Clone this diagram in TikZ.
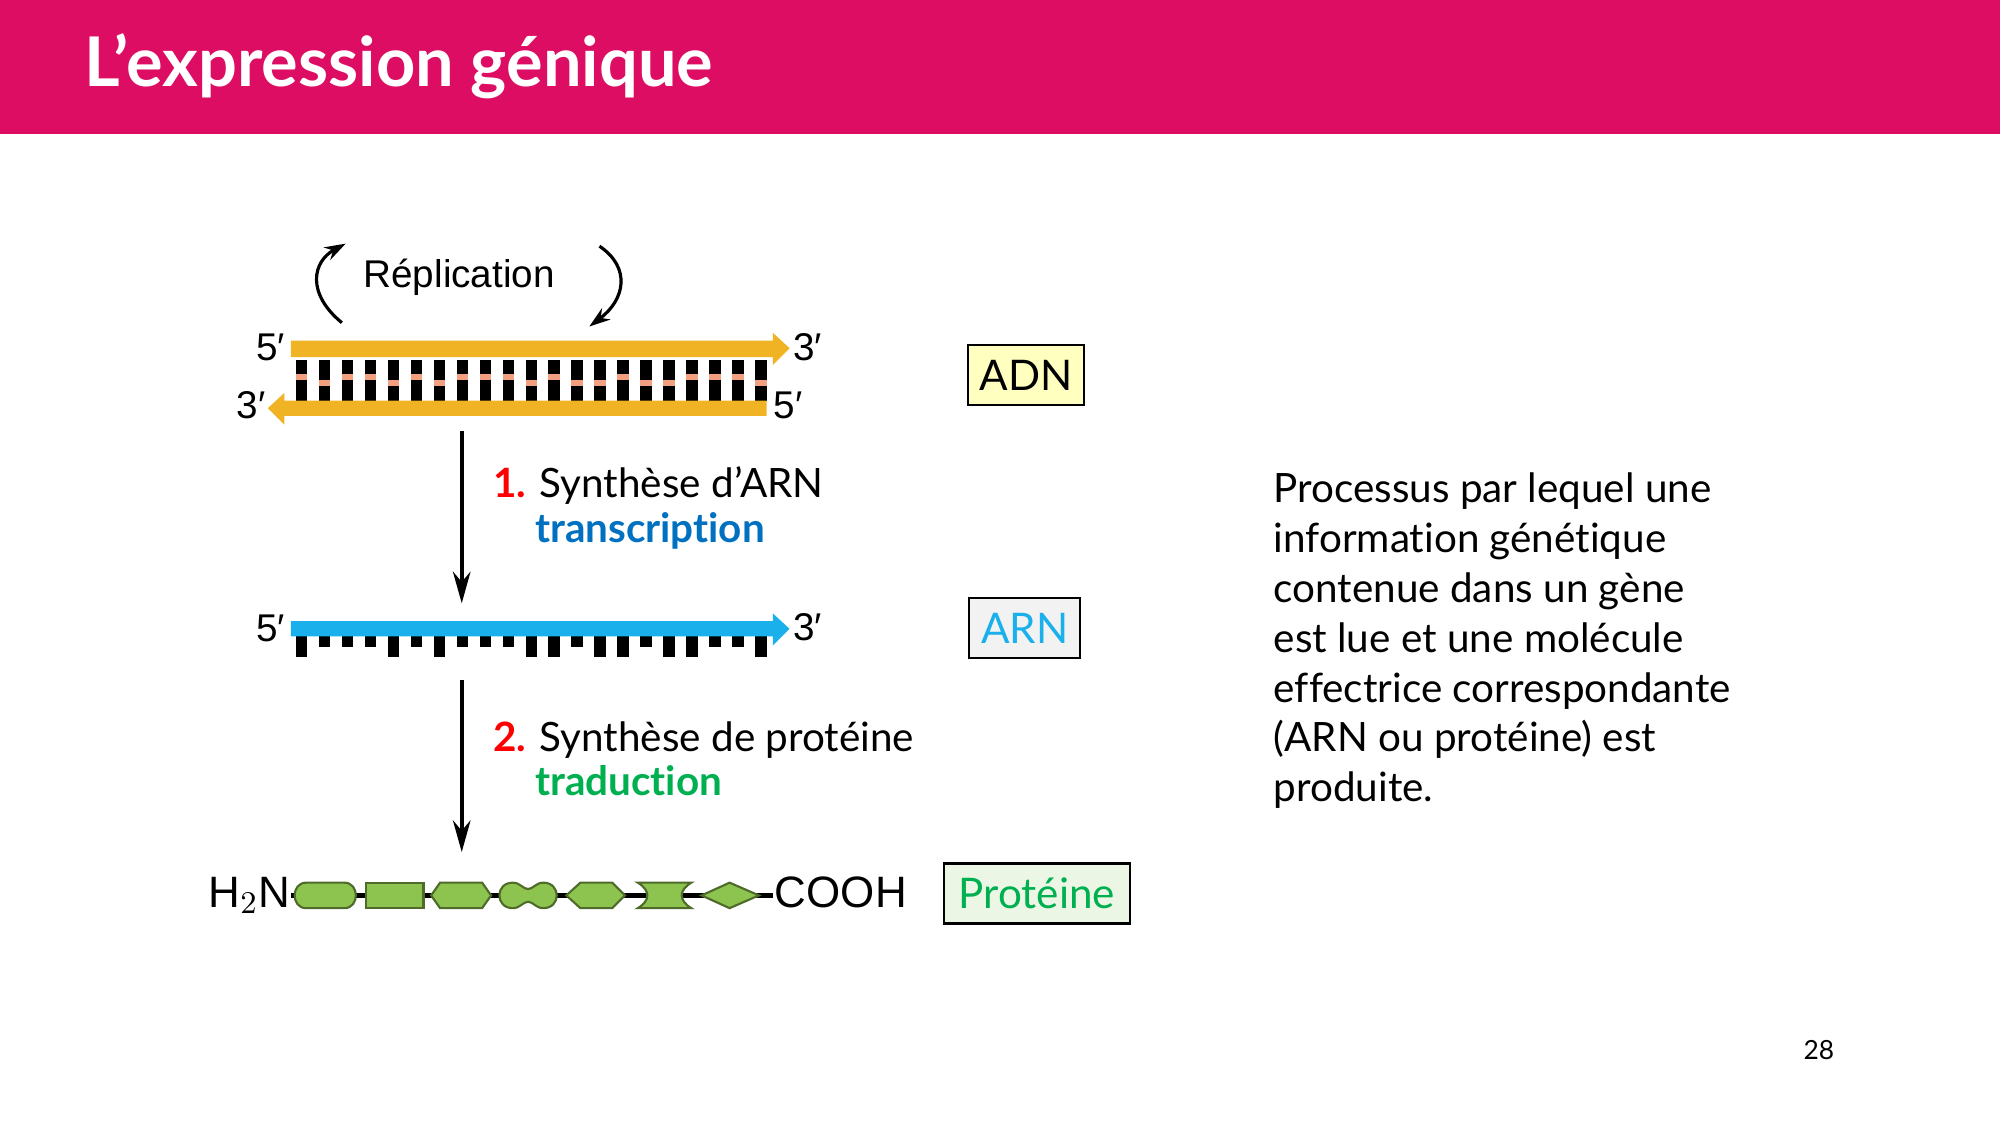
\documentclass[tikz,border=0pt]{standalone}
\usepackage{fontspec}
\setmainfont{Lato}[RawFeature={-liga;-clig;-dlig}]
\newfontfamily\diag{Liberation Sans}
\usetikzlibrary{arrows.meta}
\definecolor{banner}{HTML}{DC0D62}
\definecolor{dnaor}{HTML}{F0B323}
\definecolor{salmon}{HTML}{F2A07F}
\definecolor{rnab}{HTML}{1AB0EC}
\definecolor{tblue}{HTML}{0070C0}
\definecolor{tgreen}{HTML}{00B050}
\definecolor{pgreen}{HTML}{8DC34F}
\definecolor{pedge}{HTML}{4E6B2A}
\begin{document}
\begin{tikzpicture}[x=0.12755mm,y=-0.12755mm,
  lab/.style={font=\diag\fontsize{11}{12}\selectfont,inner sep=0},
  txt/.style={font=\fontsize{11.5}{14}\selectfont,inner sep=0,anchor=base west},
  box/.style={draw=black,line width=0.6pt,minimum width=#1,minimum height=47*0.12755mm,font=\fontsize{12}{14}\selectfont},
  prot/.style={fill=pgreen,draw=pedge,line width=0.6pt},
  flow/.style={line width=1.1pt,-{Stealth[length=9pt,width=5pt]}}]
\useasboundingbox (0,0) rectangle (1568,882);
\fill[banner] (0,0) rectangle (1568,105);
\node[anchor=base west,inner sep=0,text=white,font=\bfseries\fontsize{19.5}{22}\selectfont] (title) at (66,68) {L’expression génique};
\node[lab,font=\diag\fontsize{11}{13}\selectfont] (rep) at (360,217) {Réplication};
\coordinate (la) at (268,253); \coordinate (lb) at (271,191);
\coordinate (ra) at (470,193); \coordinate (rb) at (462,256);
\draw[line width=0.9pt,-{Stealth[length=6pt,width=4pt]}] (la) .. controls (240,230) and (245,205) .. (lb);
\draw[line width=0.9pt,-{Stealth[length=6pt,width=4pt]}] (ra) .. controls (495,210) and (490,235) .. (rb);
\foreach \i/\s in {0/0,1/1,2/0,3/0,4/1,5/0,6/1,7/0,8/0,9/0,10/1,11/0,12/1,13/1,14/0,15/1,16/1,17/0,18/0,19/0,20/1}{
  \fill[black] ({232+\i*18},282) rectangle ({241+\i*18},314);
  \fill[salmon] ({232+\i*18},{293+\s*5}) rectangle ({241+\i*18},{298+\s*5});
}
\fill[dnaor] (228,267) -- (606,267) -- (606,261) -- (619,273) -- (606,286) -- (606,280) -- (228,280) -- cycle;
\fill[dnaor] (601,314) -- (223,314) -- (223,308) -- (210,320) -- (223,333) -- (223,326) -- (601,326) -- cycle;
\node[lab] (d5a) at (212,272) {5′};
\node[lab] (d3a) at (633,272) {3′};
\node[lab] (d3b) at (197,318) {3′};
\node[lab] (d5b) at (618,318) {5′};
\node[box=89*0.12755mm,fill={rgb,255:red,255;green,255;blue,192}] (adn) at (804.5,294) {ADN};
\coordinate (a1s) at (362,338); \coordinate (a1e) at (362,473);
\draw[flow] (a1s) -- (a1e);
\node[txt] (n1) at (386,390) {\textcolor{red}{\bfseries 1.} Synthèse d’ARN};
\node[txt,text=tblue,font=\bfseries\fontsize{11.5}{14}\selectfont] (tr) at (419,425) {transcription};
\foreach \i/\s in {0/1,1/0,2/0,3/0,4/1,5/0,6/1,7/0,8/0,9/0,10/1,11/1,12/0,13/1,14/1,15/0,16/1,17/1,18/0,19/0,20/1}{
  \fill[black] ({232+\i*18},498) rectangle ({241+\i*18},{507+\s*8});
}
\fill[rnab] (228,487) -- (606,487) -- (606,481) -- (619,493) -- (606,506) -- (606,499) -- (228,499) -- cycle;
\node[lab] (r5) at (212,493) {5′};
\node[lab] (r3) at (633,492) {3′};
\node[box=87*0.12755mm,fill={rgb,255:red,242;green,242;blue,242},text=rnab] (arn) at (803.5,492.5) {ARN};
\coordinate (a2s) at (362,533); \coordinate (a2e) at (362,668);
\draw[flow] (a2s) -- (a2e);
\node[txt] (n2) at (386,589) {\textcolor{red}{\bfseries 2.} Synthèse de protéine};
\node[txt,text=tgreen,font=\bfseries\fontsize{11.5}{14}\selectfont] (tra) at (419,624) {traduction};
\node[anchor=east,inner sep=0,font=\diag\fontsize{12.5}{14}\selectfont] (h2n) at (228,702) {H$_2$N};
\node[anchor=west,inner sep=0,font=\diag\fontsize{12.5}{14}\selectfont] (cooh) at (607,700) {COOH};
\coordinate (ps) at (228,702); \coordinate (pe) at (606,702);
\draw[line width=1.2pt] (ps) -- (pe);
\draw[prot] (240,692) -- (270,692) .. controls (282,692) and (282,712) .. (270,712) -- (240,712) .. controls (228,712) and (228,692) .. (240,692) -- cycle;
\draw[prot] (287,692) rectangle (332,712);
\draw[prot] (338,702) -- (345,692) -- (378,692) -- (385,702) -- (378,712) -- (345,712) -- cycle;
\draw[prot] (402,692) .. controls (408,692) and (410,697) .. (414,697) .. controls (418,697) and (420,692) .. (426,692) .. controls (440,692) and (440,712) .. (426,712) .. controls (420,712) and (418,707) .. (414,707) .. controls (410,707) and (408,712) .. (402,712) .. controls (388,712) and (388,692) .. (402,692) -- cycle;
\draw[prot] (455,692) -- (480,692) -- (490,702) -- (480,712) -- (455,712) -- (444,702) -- cycle;
\draw[prot] (500,692) -- (542,692) .. controls (532,698) and (532,706) .. (542,712) -- (500,712) .. controls (510,706) and (510,698) .. (500,692) -- cycle;
\draw[prot] (550,702) -- (572,692) -- (595,702) -- (572,712) -- cycle;
\node[box=146*0.12755mm,fill={rgb,255:red,235;green,247;blue,228},text=tgreen] (prt) at (813,700.5) {Protéine};
\node[anchor=north west,inner sep=0,align=left,font=\fontsize{11.5}{14.2}\selectfont] (par) at (998,370) {Processus par lequel une\\information génétique\\contenue dans un gène\\est lue et une molécule\\effectrice correspondante\\(ARN ou protéine) est\\produite.};
\node[inner sep=0,font=\fontsize{7.5}{9}\selectfont] (pg) at (1426,823) {28};
\end{tikzpicture}
\end{document}
